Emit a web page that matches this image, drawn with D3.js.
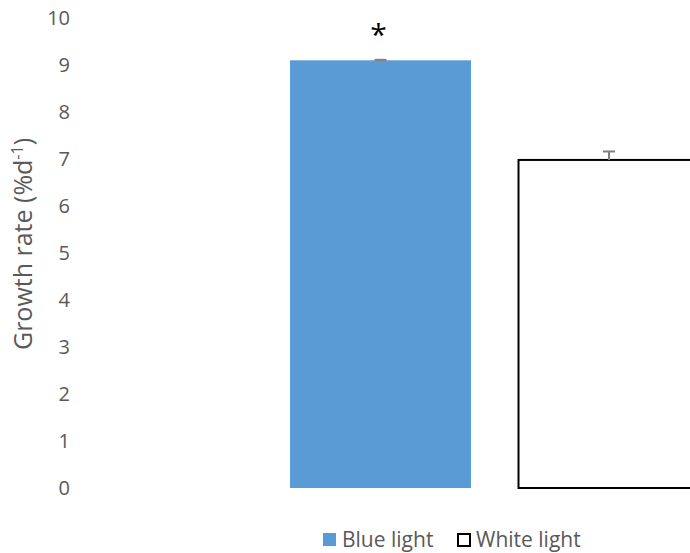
<!DOCTYPE html>
<html>
<head>
<meta charset="utf-8">
<script src="https://cdn.jsdelivr.net/npm/d3@7"></script>
<style>
  html, body { margin: 0; padding: 0; background: #fff; }
  svg { display: block; font-family: "Open Sans", "Liberation Sans", sans-serif; }
</style>
</head>
<body>
<svg id="chart" width="690" height="553"></svg>
<script>
// Growth rate by light treatment
const categories = ["Blue light", "White light"];
const growthRate = [9.1, 6.98];
const errors = [0.01, 0.18];
const significance = ["*", ""];
const yTicks = [0, 1, 2, 3, 4, 5, 6, 7, 8, 9, 10];
const fills = ["#5B9BD5", "#FFFFFF"];
const strokes = ["none", "#000000"];

const svg = d3.select("#chart");
const textColor = "#595959";

const y = d3.scaleLinear().domain([0, 10]).range([488, 18]);
const x = d3.scaleBand()
  .domain(categories)
  .range([266.25, 723.25])
  .paddingInner(0.208)
  .paddingOuter(0.104);

// Y axis: labels only, no domain line or tick marks
const yAxis = d3.axisLeft(y).tickValues(yTicks).tickSize(0).tickPadding(0).tickFormat(d3.format("d"));
const gy = svg.append("g").attr("transform", "translate(70,0)").call(yAxis);
gy.select(".domain").remove();
gy.selectAll("text")
  .attr("fill", textColor)
  .style("font-size", "20px")
  .style("font-family", "'Open Sans', sans-serif");

// Axis title
const title = svg.append("text")
  .attr("transform", "translate(32,244) rotate(-90)")
  .attr("text-anchor", "middle")
  .attr("fill", textColor)
  .style("font-size", "25px");
title.append("tspan").text("Growth rate (%d");
title.append("tspan").attr("dy", -9).style("font-size", "16px").text("-1");
title.append("tspan").attr("dy", 9).text(")");

// Bars
svg.append("g").selectAll("rect")
  .data(categories)
  .join("rect")
  .attr("x", d => x(d))
  .attr("y", (d, i) => y(growthRate[i]))
  .attr("width", x.bandwidth())
  .attr("height", (d, i) => y(0) - y(growthRate[i]))
  .attr("fill", (d, i) => fills[i])
  .attr("stroke", (d, i) => strokes[i])
  .attr("stroke-width", 2);

// Error bars (upper only)
const eb = svg.append("g").attr("stroke", "#7F7F7F").attr("stroke-width", 2);
categories.forEach((c, i) => {
  const cx = x(c) + x.bandwidth() / 2;
  eb.append("line")
    .attr("x1", cx).attr("x2", cx)
    .attr("y1", y(growthRate[i])).attr("y2", y(growthRate[i] + errors[i]));
  eb.append("line")
    .attr("x1", cx - 6).attr("x2", cx + 6)
    .attr("y1", y(growthRate[i] + errors[i])).attr("y2", y(growthRate[i] + errors[i]));
});

// Significance markers
svg.append("g").selectAll("text")
  .data(categories)
  .join("text")
  .attr("x", d => x(d) + x.bandwidth() / 2 - 2)
  .attr("y", (d, i) => y(growthRate[i] + errors[i]) - 15)
  .attr("text-anchor", "middle")
  .attr("fill", "#000")
  .style("font-size", "30px")
  .text((d, i) => significance[i]);

// Legend
const legend = svg.append("g");
const legendX = [323, 457];
categories.forEach((c, i) => {
  legend.append("rect")
    .attr("x", legendX[i] + (i ? 1 : 0)).attr("y", 533 + (i ? 1 : 0))
    .attr("width", i ? 12 : 13).attr("height", i ? 12 : 13)
    .attr("fill", fills[i])
    .attr("stroke", strokes[i])
    .attr("stroke-width", 2);
  legend.append("text")
    .attr("x", legendX[i] + 19).attr("y", 547)
    .attr("fill", textColor)
    .style("font-size", "21px")
    .text(c);
});
</script>
</body>
</html>
